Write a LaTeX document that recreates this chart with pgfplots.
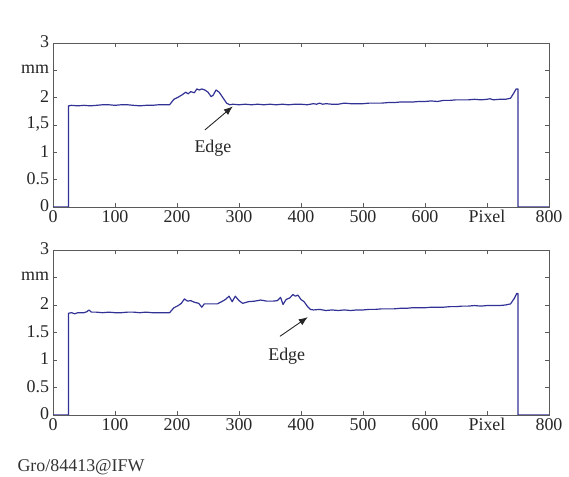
\documentclass[border=0pt]{standalone}
\usepackage{pgfplots}
\pgfplotsset{compat=1.18}
\usepackage{fontspec}
\setmainfont{Liberation Serif}
\usetikzlibrary{arrows.meta}
\definecolor{lineblue}{RGB}{50,50,150}
\definecolor{framegray}{RGB}{90,90,90}
\pgfplotsset{
  myax/.style={
    scale only axis, width=496bp, height=164bp, anchor=south west,
    xmin=0, xmax=800, ymin=0, ymax=3,
    xtick={0,100,...,800}, xticklabels={0,100,200,300,400,500,600,Pixel,800},
    ytick={0,0.5,1,1.5,2,2.5,3},
    tick align=inside, major tick length=4bp,
    axis line style={framegray, line width=0.8pt},
    every tick/.style={framegray, line width=0.6pt},
    tick label style={font=\fontsize{18}{18}\selectfont, text=black!85},
    /pgf/number format/assume math mode=true,
    xticklabel style={yshift=0bp},
    yticklabel style={xshift=-0.5bp, yshift=1bp},
  }
}
\begin{document}
\begin{tikzpicture}
\path[use as bounding box] (0,0) rectangle (569bp,477bp);
\begin{axis}[myax, at={(53bp,270bp)}, yticklabels={0,0.5,1,{1,5},2,mm,3}]
\addplot[lineblue, line width=1.2pt, mark=none, line join=round] coordinates {
(0,0) (25,0) (25,1.85) (30,1.86)(40,1.85)(50,1.86)(60,1.85)(70,1.86)(80,1.87)(90,1.87)(100,1.86)(110,1.87)(120,1.87)(130,1.86)(140,1.85)(150,1.86)(160,1.86)(170,1.87)(180,1.87)(188,1.87)(195,1.97)(202,2.01)(208,2.05)(214,2.10)(218,2.07)(222,2.11)(228,2.09)(232,2.16)(236,2.14)(240,2.16)(245,2.14)(250,2.10)(255,2.02)(258,2.04)(263,2.14)(268,2.10)(274,2.00)(280,1.90)(285,1.87)(290,1.88)(300,1.87)(310,1.88)(320,1.87)(330,1.88)(340,1.87)(350,1.88)(360,1.87)(370,1.88)(380,1.87)(390,1.88)(400,1.88)(410,1.87)(420,1.89)(425,1.88)(430,1.90)(435,1.88)(440,1.89)(450,1.88)(460,1.88)(470,1.90)(480,1.89)(490,1.89)(500,1.89)(510,1.90)(520,1.90)(530,1.90)(540,1.91)(550,1.91)(560,1.92)(570,1.92)(580,1.92)(590,1.93)(600,1.93)(610,1.94)(620,1.93)(630,1.95)(640,1.95)(650,1.96)(660,1.96)(670,1.96)(680,1.97)(690,1.96)(700,1.97)(705,1.98)(710,1.96)(720,1.97)(730,1.97)(738,1.99)(743,2.08)(747,2.16)(750,2.16)(750,0)(800,0)
};
\draw[-{Latex[length=9bp,width=7bp]}, line width=0.9pt, black!85] (axis cs:245,1.41) -- (axis cs:290,1.84);
\node[font=\fontsize{18}{18}\selectfont, text=black!85] at (axis cs:258,1.08) {Edge};
\end{axis}
\begin{axis}[myax, at={(53bp,62bp)}, height=165bp, yticklabels={0,0.5,1,1.5,2,mm,3}]
\addplot[lineblue, line width=1.2pt, mark=none, line join=round] coordinates {
(0,0)(25,0)(25,1.85)(30,1.86)(35,1.84)(40,1.86)(50,1.86)(55,1.88)(58,1.91)(62,1.87)(70,1.87)(80,1.86)(90,1.87)(100,1.86)(110,1.86)(120,1.87)(130,1.87)(140,1.86)(150,1.87)(160,1.86)(170,1.86)(180,1.86)(188,1.86)(195,1.95)(202,1.99)(207,2.03)(212,2.11)(217,2.07)(222,2.08)(228,2.05)(235,2.03)(240,1.96)(244,2.02)(255,2.02)(265,2.02)(272,2.06)(278,2.10)(284,2.16)(289,2.06)(294,2.16)(300,2.08)(306,2.03)(315,2.06)(325,2.07)(335,2.09)(345,2.07)(355,2.07)(362,2.08)(367,2.14)(371,2.01)(376,2.10)(382,2.13)(387,2.19)(391,2.16)(395,2.18)(400,2.10)(405,2.06)(410,1.98)(415,1.92)(420,1.91)(430,1.92)(440,1.90)(450,1.91)(460,1.90)(470,1.91)(480,1.90)(490,1.91)(500,1.91)(510,1.92)(520,1.92)(530,1.93)(540,1.93)(550,1.93)(560,1.94)(570,1.94)(580,1.95)(590,1.95)(600,1.95)(610,1.96)(620,1.96)(630,1.96)(640,1.97)(650,1.97)(660,1.98)(670,1.98)(680,1.99)(690,1.98)(700,1.99)(710,1.99)(720,1.99)(730,2.00)(738,2.02)(744,2.12)(748,2.21)(750,2.21)(750,0)(800,0)
};
\draw[-{Latex[length=9bp,width=7bp]}, line width=0.9pt, black!85] (axis cs:366,1.43) -- (axis cs:411,1.78);
\node[font=\fontsize{18}{18}\selectfont, text=black!85] at (axis cs:377,1.06) {Edge};
\end{axis}
\node[anchor=west, font=\fontsize{18}{18}\selectfont, text=black!80] at (14bp,10bp) {Gro/84413@IFW};
\end{tikzpicture}
\end{document}
